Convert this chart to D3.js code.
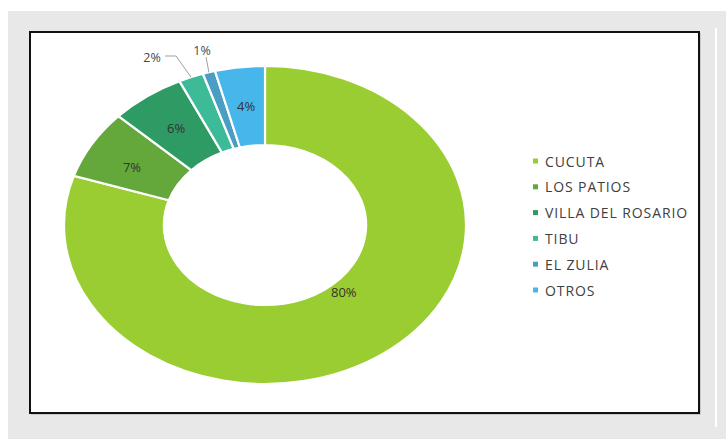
<!DOCTYPE html>
<html>
<head>
<meta charset="utf-8">
<script src="https://cdn.jsdelivr.net/npm/d3@7"></script>
<style>
  body { margin: 0; background: #fff; }
  text { font-family: "Open Sans", sans-serif; }
</style>
</head>
<body>
<div id="vis"></div>
<script>
var width = 726,
    height = 439;

var categories = ["CUCUTA", "LOS PATIOS", "VILLA DEL ROSARIO", "TIBU", "EL ZULIA", "OTROS"],
    values = [80, 7, 6, 2, 1, 4],
    labels = ["80%", "7%", "6%", "2%", "1%", "4%"],
    colors = ["#9acd32", "#64a83c", "#2e9a64", "#3dbb98", "#4a9ec4", "#47b6ea"];

var cx = 265, cy = 225,
    outerR = 159, innerR = 80,
    stretch = 201 / 159;

var svg = d3.select("#vis").append("svg")
    .attr("width", width)
    .attr("height", height);

// grey panel, white strip, black framed chart area
svg.append("rect").attr("x", 8).attr("y", 11).attr("width", width - 8).attr("height", height - 11).attr("fill", "#e8e8e8");
svg.append("rect").attr("x", 715).attr("y", 28).attr("width", 2).attr("height", 399).attr("fill", "#fff");
svg.append("rect").attr("x", 31).attr("y", 33).attr("width", 670).attr("height", 382).attr("fill", "#c8c8c8");
svg.append("rect").attr("x", 30).attr("y", 32).attr("width", 669).attr("height", 381)
    .attr("fill", "#fff").attr("stroke", "#111").attr("stroke-width", 2);

var data = categories.map(function(c, i) { return {name: c, value: values[i], label: labels[i], color: colors[i]}; });

var pie = d3.pie().sort(null).value(function(d) { return d.value; });
var arcs = pie(data);

var arc = d3.arc().innerRadius(innerR).outerRadius(outerR);

var ring = svg.append("g")
    .attr("transform", "translate(" + cx + "," + cy + ") scale(" + stretch + ",1)");

ring.selectAll("path").data(arcs).enter()
    .append("path")
    .attr("d", arc)
    .attr("fill", function(d) { return d.data.color; })
    .attr("stroke", "#fff")
    .attr("stroke-width", 2.2)
    .attr("vector-effect", "non-scaling-stroke");

function toPage(p) { return [cx + p[0] * stretch, cy + p[1]]; }

// labels inside the ring
var nudge = {0: [-10, -30], 1: [-3, 3]};
svg.selectAll(".lbl").data(arcs.filter(function(d) { return d.data.value >= 4; })).enter()
    .append("text")
    .attr("class", "lbl")
    .attr("text-anchor", "middle")
    .attr("dominant-baseline", "central")
    .attr("font-size", 13)
    .attr("fill", "#333")
    .attr("x", function(d) { var n = nudge[d.index] || [0, 0]; return toPage(arc.centroid(d))[0] + n[0]; })
    .attr("y", function(d) { var n = nudge[d.index] || [0, 0]; return toPage(arc.centroid(d))[1] + n[1]; })
    .text(function(d) { return d.data.label; });

// small slices: labels outside with leader lines
var outside = {3: {x: 152, y: 57, elbow: [[165, 56], [176, 56]]}, 4: {x: 202, y: 50, elbow: [[206, 57]]}};
var outerArc = d3.arc().innerRadius(outerR).outerRadius(outerR);
arcs.forEach(function(d) {
  var o = outside[d.index];
  if (!o) return;
  var end = toPage(outerArc.centroid(d));
  svg.append("path")
      .attr("d", d3.line()(o.elbow.concat([end])))
      .attr("fill", "none")
      .attr("stroke", "#a0a0a0")
      .attr("stroke-width", 1);
  svg.append("text")
      .attr("x", o.x).attr("y", o.y)
      .attr("text-anchor", "middle")
      .attr("dominant-baseline", "central")
      .attr("font-size", 12.5)
      .attr("fill", "#484848")
      .text(d.data.label);
});

// legend
var legend = svg.append("g").attr("transform", "translate(533,161)");
var row = legend.selectAll("g").data(data).enter()
    .append("g")
    .attr("transform", function(d, i) { return "translate(0," + (i * 25.8) + ")"; });
row.append("rect")
    .attr("x", 0).attr("y", -2.5)
    .attr("width", 5).attr("height", 5)
    .attr("fill", function(d) { return d.color; });
row.append("text")
    .attr("x", 12)
    .attr("dominant-baseline", "central")
    .attr("font-size", 14)
    .attr("letter-spacing", 0.9)
    .attr("fill", "#404040")
    .text(function(d) { return d.name; });
</script>
</body>
</html>
